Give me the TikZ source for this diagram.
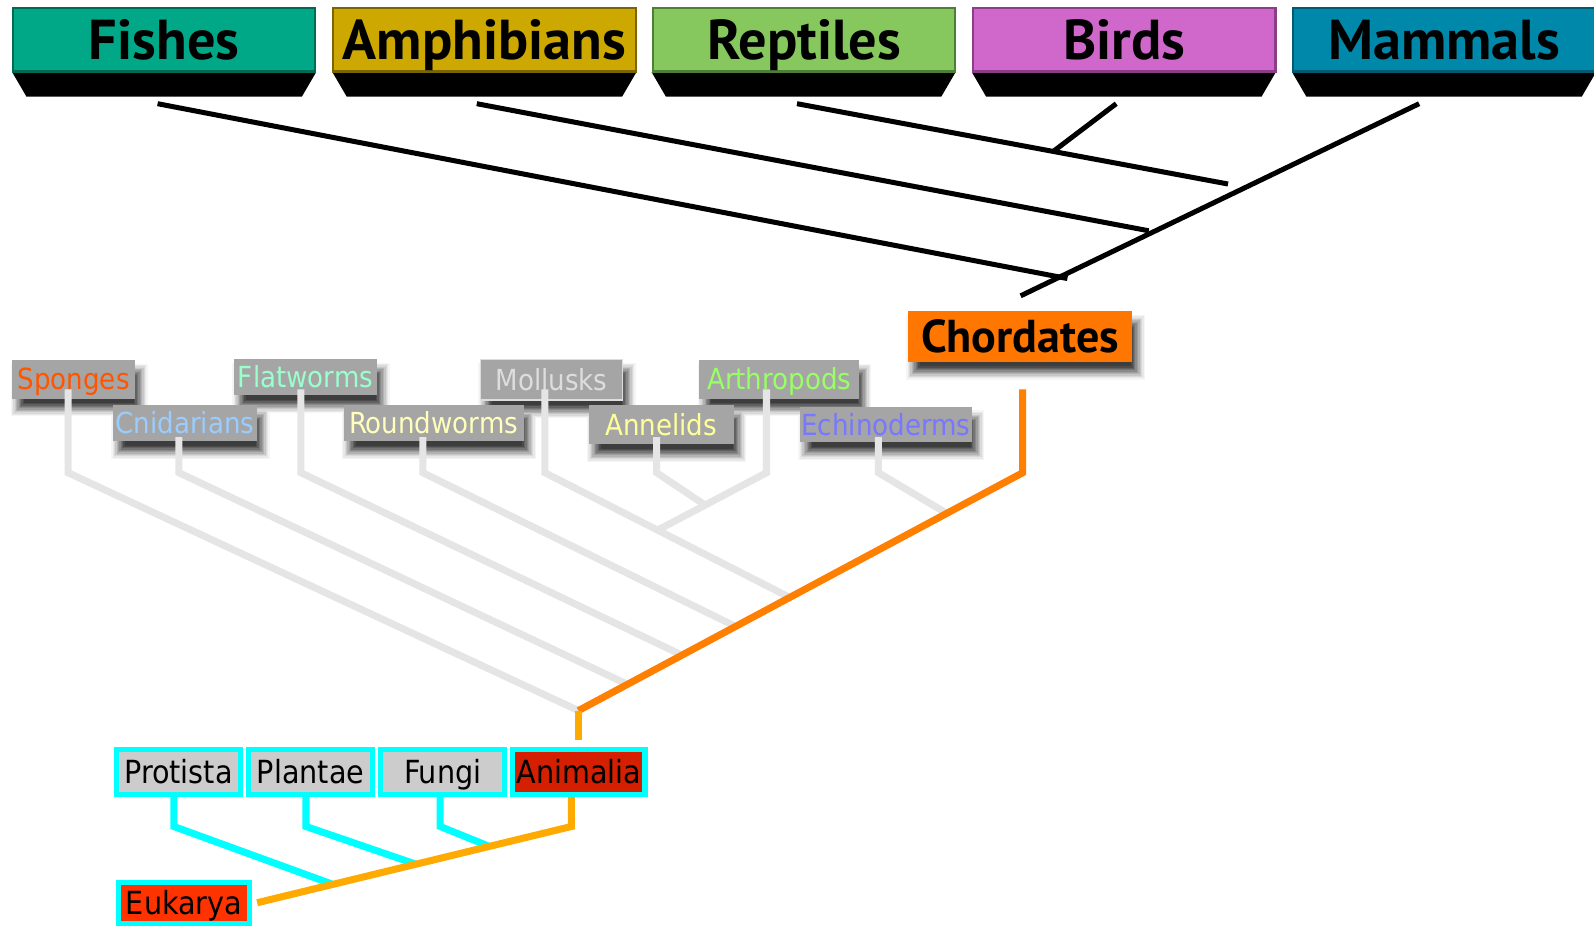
\documentclass[tikz,border=0pt]{standalone}
\usepackage{fontspec}
\newfontfamily\hdrfont{PT Sans}
\newfontfamily\labfont{DejaVu Sans Condensed}
\pgfdeclarelayer{shd}
\pgfsetlayers{shd,main}
\definecolor{fishC}{HTML}{00A887}\definecolor{fishD}{HTML}{006B55}
\definecolor{amphC}{HTML}{CCA800}\definecolor{amphD}{HTML}{7A6500}
\definecolor{reptC}{HTML}{86C85E}\definecolor{reptD}{HTML}{4E7F36}
\definecolor{birdC}{HTML}{D068CC}\definecolor{birdD}{HTML}{8B3D88}
\definecolor{mamC}{HTML}{0088AA}\definecolor{mamD}{HTML}{005A72}
\definecolor{labgray}{HTML}{A5A5A5}
\definecolor{lightline}{HTML}{E5E5E5}
\definecolor{orangeA}{HTML}{FF7F00}
\definecolor{orangeB}{HTML}{FFAA00}
\definecolor{chordC}{HTML}{FF7700}
\definecolor{kgray}{HTML}{CCCCCC}
\definecolor{aniC}{HTML}{D42000}
\definecolor{eukC}{HTML}{FF3300}
\definecolor{aqua}{HTML}{00FFFF}
\definecolor{tSpo}{HTML}{FF5500}
\definecolor{tCni}{HTML}{99CCFF}
\definecolor{tFla}{HTML}{99FFCC}
\definecolor{tRou}{HTML}{FFFFBB}
\definecolor{tMol}{HTML}{DDDDDD}
\definecolor{tAnn}{HTML}{FFFF99}
\definecolor{tArt}{HTML}{99FF66}
\definecolor{tEch}{HTML}{7777FF}
% soft shadows: drawn level by level for all listed nodes, so they merge cleanly
\newcommand\softshadows[1]{%
  \begin{pgfonlayer}{shd}
  \foreach \e/\c in {5/4,4/9,3/15,2/22,1/30,0/38,-1/46,-2/54,-3/62,-4/70,-5/76}{%
    \foreach \n in {#1}{%
      \fill[black!\c]
        ([shift={({4pt-(\e)*1pt},{-8pt+(\e)*1pt})}]\n.north west) rectangle
        ([shift={({4pt+(\e)*1pt},{-8pt-(\e)*1pt})}]\n.south east);
    }
  }
  \end{pgfonlayer}}
\begin{document}
\begin{tikzpicture}[x=0.75pt,y=-0.75pt,
  hdr/.style 2 args={draw=#2, fill=#1, line width=1.5pt, minimum width=223pt,
    minimum height=47pt, inner sep=0pt, text height=29pt, text depth=0pt,
    font=\hdrfont\bfseries\fontsize{41.5}{42}\selectfont},
  tabfill/.style={fill=black},
  lab/.style={fill=labgray, inner sep=0pt, text height=15.6pt, text depth=0pt,
    font=\labfont\fontsize{21.4}{22}\selectfont},
  chord/.style={fill=chordC, inner sep=0pt, minimum width=165.75pt, minimum height=37.5pt,
    text height=23.6pt, text depth=0pt, font=\hdrfont\bfseries\fontsize{34}{35}\selectfont},
  king/.style={draw=aqua, line width=3.75pt, fill=#1, inner sep=0pt, minimum height=33pt,
    text height=17pt, text depth=0pt, font=\labfont\fontsize{23.5}{24}\selectfont},
  blkline/.style={line width=3.7pt, black},
  gline/.style={line width=5.2pt, lightline},
  oline/.style={line width=5.2pt, orangeA},
  obline/.style={line width=5.2pt, orangeB},
  cline/.style={line width=5.2pt, aqua}
]
\begin{pgfonlayer}{shd}
\fill[white] (0,0) rectangle (1568,911);
\end{pgfonlayer}
\useasboundingbox (0,0) rectangle (1568,911);
\clip (0,0) rectangle (1568,911);

% ---------- header tabs and boxes
\foreach \x in {12,327,641,956,1271}
  \fill[tabfill] (\x,71) -- ++(299,0) -- ++(-14,24) -- ++(-271,0) -- cycle;
\node[hdr={fishC}{fishD}] (hf) at (161.5,39) {Fishes};
\node[hdr={amphC}{amphD}] (ha) at (476.5,39) {Amphibians};
\node[hdr={reptC}{reptD}] (hr) at (791,39) {Reptiles};
\node[hdr={birdC}{birdD}] (hb) at (1106,39) {Birds};
\node[hdr={mamC}{mamD}] (hm) at (1420.5,39) {Mammals};

% ---------- top tree
\coordinate (fT) at (155,102);  \coordinate (fE) at (1050,274);
\coordinate (aT) at (469,102);  \coordinate (aE) at (1130,227);
\coordinate (rT) at (784,102);  \coordinate (rE) at (1208,181);
\coordinate (bT) at (1098,102); \coordinate (bE) at (1036,149);
\coordinate (mT) at (1396,102); \coordinate (mE) at (1004,291);
\draw[blkline] (fT) -- (fE);
\draw[blkline] (aT) -- (aE);
\draw[blkline] (rT) -- (rE);
\draw[blkline] (bT) -- (intersection of bT--bE and rT--rE);
\draw[blkline] (mT) -- (mE);

% ---------- Chordates and invertebrate labels
\node[chord] (cho) at (1003.5,331) {Chordates};
\node[lab, text=tSpo, minimum width=90.75pt, minimum height=28.5pt] (spg) at (72.5,373) {Sponges};
\node[lab, text=tFla, minimum width=105.75pt, minimum height=27pt] (flt) at (300.5,371) {Flatworms};
\node[lab, text=tMol, draw=tMol, line width=1.2pt, minimum width=105pt, minimum height=30pt] (mol) at (542.5,373.5) {Mollusks};
\node[lab, text=tArt, minimum width=117.75pt, minimum height=28.5pt] (art) at (766.5,373) {Arthropods};
\node[lab, text=tCni, minimum width=106.5pt, minimum height=27pt] (cni) at (182,416) {Cnidarians};
\node[lab, text=tRou, minimum width=132.75pt, minimum height=27pt] (rnd) at (426.5,416) {Roundworms};
\node[lab, text=tAnn, minimum width=107.25pt, minimum height=29.25pt] (ann) at (650.5,417.5) {Annelids};
\node[lab, text=tEch, minimum width=126.75pt, minimum height=26.25pt] (ech) at (871.5,417.5) {Echinoderms};
\softshadows{cho,spg,flt,mol,art,cni,rnd,ann,ech}

% ---------- animal tree
\coordinate (oA) at (569,699);
\coordinate (oB) at (1006,465);
\coordinate (oT) at (1006,383);
\coordinate (oL) at (569,728);
\coordinate (spgT) at (67,383);  \coordinate (spgB) at (67,465);
\coordinate (cniT) at (176,430); \coordinate (cniB) at (176,465); \coordinate (cniD) at (611.5,670.5);
\coordinate (fltT) at (296,383); \coordinate (fltB) at (296,465); \coordinate (fltD) at (667,642.6);
\coordinate (rndT) at (416,430); \coordinate (rndB) at (416,465); \coordinate (rndD) at (721,615);
\coordinate (molT) at (536,383); \coordinate (molB) at (536,465); \coordinate (molD) at (775.5,587);
\coordinate (annT) at (646,430); \coordinate (annB) at (646,465); \coordinate (annD) at (688.6,493.5);
\coordinate (artT) at (754,383); \coordinate (artB) at (754,465); \coordinate (artD) at (647,521.4);
\coordinate (echT) at (864,430); \coordinate (echB) at (864,465); \coordinate (echD) at (928,503);

\draw[gline] (spgT) -- (spgB) -- (oA);
\draw[gline] (cniT) -- (cniB) -- (intersection of cniB--cniD and oA--oB);
\draw[gline] (fltT) -- (fltB) -- (intersection of fltB--fltD and oA--oB);
\draw[gline] (rndT) -- (rndB) -- (intersection of rndB--rndD and oA--oB);
\draw[gline] (molT) -- (molB) -- (intersection of molB--molD and oA--oB);
\draw[gline] (artT) -- (artB) -- (intersection of artB--artD and molB--molD);
\draw[gline] (annT) -- (annB) -- (intersection of annB--annD and artB--artD);
\draw[gline] (echT) -- (echB) -- (intersection of echB--echD and oA--oB);
\draw[oline] (oT) -- (oB) -- (oA);
\draw[obline] (oL) -- (oA);

% ---------- kingdoms
\node[king=kgray, minimum width=91.5pt] (pro) at (175.5,759.5) {Protista};
\node[king=kgray, minimum width=91.5pt] (pla) at (305.5,759.5) {Plantae};
\node[king=kgray, minimum width=91.5pt] (fun) at (435.5,759.5) {Fungi};
\node[king=aniC, minimum width=97.5pt] (ani) at (569.5,759.5) {Animalia};
\node[king=eukC, minimum width=96.75pt, minimum height=30pt] (euk) at (181,888.5) {Eukarya};

\coordinate (proT) at (171,784); \coordinate (proB) at (171,813); \coordinate (proD) at (325,869);
\coordinate (plaT) at (301,784); \coordinate (plaB) at (301,813); \coordinate (plaD) at (406,849);
\coordinate (funT) at (433,784); \coordinate (funB) at (433,813); \coordinate (funD) at (480,832);
\coordinate (aniT) at (562,784); \coordinate (aniB) at (562,813); \coordinate (eukE) at (253,888);
\draw[cline] (proT) -- (proB) -- (intersection of proB--proD and aniB--eukE);
\draw[cline] (plaT) -- (plaB) -- (intersection of plaB--plaD and aniB--eukE);
\draw[cline] (funT) -- (funB) -- (intersection of funB--funD and aniB--eukE);
\draw[obline] (aniT) -- (aniB) -- (eukE);
\end{tikzpicture}
\end{document}
